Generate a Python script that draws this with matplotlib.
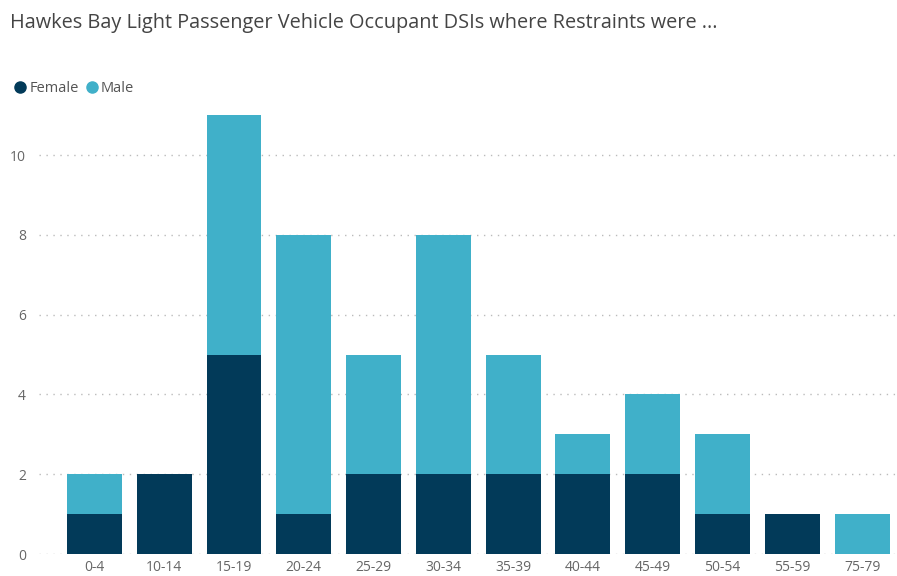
import matplotlib
matplotlib.use("Agg")
import matplotlib.pyplot as plt
from matplotlib.lines import Line2D
import numpy as np

categories = ["0-4", "10-14", "15-19", "20-24", "25-29", "30-34", "35-39",
              "40-44", "45-49", "50-54", "55-59", "75-79"]
female = [1, 2, 5, 1, 2, 2, 2, 2, 2, 1, 1, 0]
male = [1, 0, 6, 7, 3, 6, 3, 1, 2, 2, 0, 1]
y_ticks = [0, 2, 4, 6, 8, 10]

female_color = "#023A59"
male_color = "#40B0C9"
text_color = "#666666"

plt.rcParams["font.family"] = ["Open Sans", "DejaVu Sans"]

fig = plt.figure(figsize=(8.97, 5.76), dpi=100)
ax = fig.add_axes([0.043, 0.038, 0.957, 0.769])

x = np.arange(len(categories))
width = 0.787
ax.bar(x, female, width=width, color=female_color, zorder=3)
ax.bar(x, male, width=width, bottom=female, color=male_color, zorder=3)

ax.set_xlim(-0.8, 11.5)
ax.set_ylim(0, 11.1)
ax.set_xticks(x)
ax.set_xticklabels(categories, fontsize=10, color=text_color)
ax.set_yticks(y_ticks)
ax.set_yticklabels([str(v) for v in y_ticks], fontsize=10, color=text_color)
ax.tick_params(axis="both", length=0)
ax.tick_params(axis="x", pad=4.5)
ax.tick_params(axis="y", pad=9)

ax.grid(axis="y", linestyle=(0, (1, 4)), color="#bbbbbb", linewidth=1, zorder=0)
for s in ax.spines.values():
    s.set_visible(False)

fig.text(0.011, 0.96, "Hawkes Bay Light Passenger Vehicle Occupant DSIs where Restraints were ...",
         fontsize=14.3, color="#444444", va="center", ha="left")

handles = [Line2D([0], [0], marker="o", linestyle="", markersize=8,
                  markerfacecolor=female_color, markeredgecolor=female_color),
           Line2D([0], [0], marker="o", linestyle="", markersize=8,
                  markerfacecolor=male_color, markeredgecolor=male_color)]
fig.legend(handles, ["Female", "Male"], loc="center left",
           bbox_to_anchor=(0.0, 0.846), ncol=2, frameon=False,
           fontsize=10.5, handletextpad=0.1, columnspacing=0.4,
           handlelength=1.0, labelcolor="#555555")

fig.savefig("out.png", dpi=100)
